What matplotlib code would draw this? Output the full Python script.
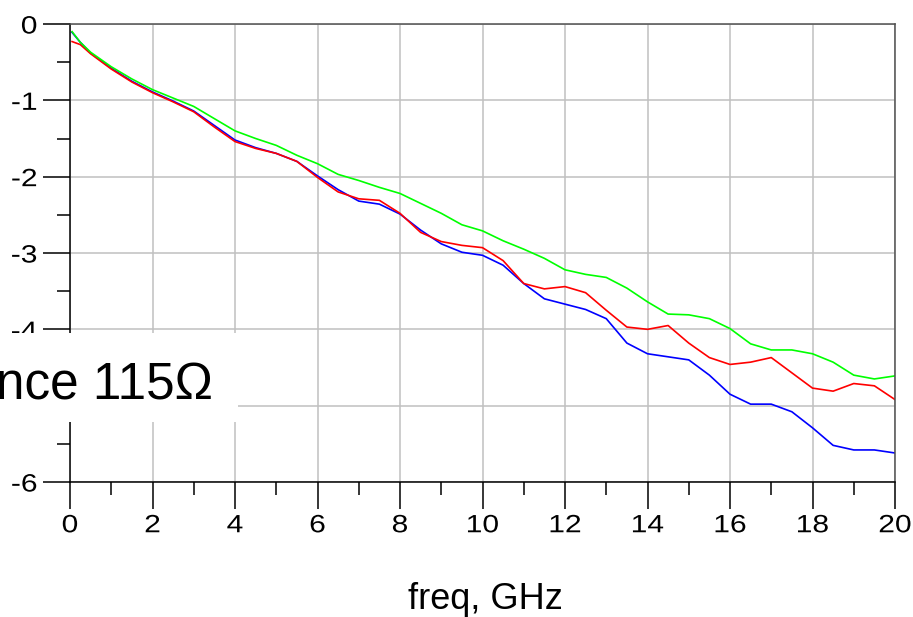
import numpy as np
import matplotlib
matplotlib.use("Agg")
import matplotlib.pyplot as plt
from matplotlib.patches import Rectangle
from matplotlib.ticker import MultipleLocator
from matplotlib.patheffects import AbstractPathEffect
from matplotlib.transforms import Affine2D

plt.rcParams['font.family'] = ['Liberation Sans', 'DejaVu Sans']
plt.rcParams['axes.unicode_minus'] = False

# frequency grid (GHz) and insertion loss (dB)
freq = [0.05, 0.25, 0.5, 1.0, 1.5, 2.0, 2.5, 3.0, 3.5, 4.0, 4.5, 5.0, 5.5, 6.0, 6.5,
        7.0, 7.5, 8.0, 8.5, 9.0, 9.5, 10.0, 10.5, 11.0, 11.5, 12.0, 12.5, 13.0,
        13.5, 14.0, 14.5, 15.0, 15.5, 16.0, 16.5, 17.0, 17.5, 18.0, 18.5, 19.0,
        19.5, 20.0]
blue = [-0.11, -0.24, -0.38, -0.58, -0.75, -0.89, -1.01, -1.14, -1.33, -1.52, -1.62,
        -1.695, -1.80, -1.99, -2.17, -2.32, -2.36, -2.49, -2.70, -2.88, -2.99, -3.03,
        -3.16, -3.40, -3.60, -3.67, -3.74, -3.86, -4.18, -4.32, -4.36, -4.40, -4.60,
        -4.85, -4.98, -4.98, -5.08, -5.29, -5.52, -5.58, -5.58, -5.62]
red = [-0.23, -0.27, -0.39, -0.59, -0.76, -0.90, -1.02, -1.15, -1.35, -1.54, -1.63,
       -1.695, -1.80, -2.01, -2.20, -2.29, -2.31, -2.48, -2.73, -2.85, -2.90, -2.93,
       -3.10, -3.40, -3.47, -3.44, -3.52, -3.75, -3.97, -4.00, -3.95, -4.18, -4.37,
       -4.46, -4.43, -4.37, -4.57, -4.77, -4.81, -4.71, -4.74, -4.92]
green = [-0.10, -0.24, -0.37, -0.56, -0.72, -0.86, -0.97, -1.08, -1.24, -1.40, -1.50,
         -1.59, -1.72, -1.83, -1.97, -2.05, -2.14, -2.22, -2.35, -2.48, -2.63, -2.71,
         -2.84, -2.95, -3.07, -3.22, -3.28, -3.32, -3.46, -3.64, -3.80, -3.81, -3.86,
         -3.99, -4.19, -4.27, -4.27, -4.32, -4.43, -4.60, -4.65, -4.61]

xticks = [0, 2, 4, 6, 8, 10, 12, 14, 16, 18, 20]
xlabels = ['0', '2', '4', '6', '8', '10', '12', '14', '16', '18', '20']
yticks = [0, -1, -2, -3, -4, -5, -6]
ylabels = ['0', '-1', '-2', '-3', '-4', '', '-6']   # -5 sits under the label box


class HStretch(AbstractPathEffect):
    """widen glyphs horizontally, the tick font in the original is broad"""
    def __init__(self, sx, anchor='center'):
        super().__init__()
        self.sx = sx
        self.anchor = anchor

    def draw_path(self, renderer, gc, tpath, affine, rgbFace=None):
        ext = tpath.get_extents()
        x0 = ext.x1 if self.anchor == 'right' else (ext.x0 + ext.x1) / 2
        t = Affine2D().translate(-x0, 0).scale(self.sx, 1).translate(x0, 0) + affine
        renderer.draw_path(gc, tpath, t, rgbFace)


W, H = 913, 617
fig = plt.figure(figsize=(W / 100, H / 100), dpi=100)
ax = fig.add_axes([70 / W, 1 - 482 / H, 825 / W, 458 / H])

ax.plot(freq, blue, color='#0000ff', lw=1.2)
ax.plot(freq, red, color='#ff0000', lw=1.2)
ax.plot(freq, green, color='#00ff00', lw=1.2)

ax.set_xlim(0, 20)
ax.set_ylim(-6, 0)
ax.set_xticks(xticks)
ax.set_xticklabels(xlabels)
ax.set_yticks(yticks)
ax.set_yticklabels(ylabels)
ax.xaxis.set_minor_locator(MultipleLocator(1))
ax.yaxis.set_minor_locator(MultipleLocator(0.5))
ax.grid(True, which='major', color='#c0c0c0', lw=1.1)
ax.set_axisbelow(True)

ax.tick_params(which='major', direction='out', length=19.5, width=1.1,
               labelsize=18, color='black')
ax.tick_params(axis='x', which='major', pad=3)
ax.tick_params(axis='y', which='major', pad=4)
ax.tick_params(which='minor', direction='out', length=9.5, width=1.1, color='black')
for lab in ax.get_xticklabels():
    lab.set_path_effects([HStretch(1.2, 'center')])
for lab in ax.get_yticklabels():
    lab.set_path_effects([HStretch(1.2, 'right')])

for s in ['left', 'bottom']:
    ax.spines[s].set_linewidth(1.1)
    ax.spines[s].set_color('black')
for s in ['top', 'right']:
    ax.spines[s].set_linewidth(1.1)
    ax.spines[s].set_color('#505050')

ax.set_xlabel('freq, GHz', fontsize=26, va='baseline')
ax.xaxis.set_label_coords((485.5 - 70) / 825, (482 - 609) / 458)

# white label box partly cut off on the left
fig.add_artist(Rectangle((0, 1 - 422 / H), 238 / W, 89 / H, transform=fig.transFigure,
                         facecolor='white', edgecolor='none', zorder=10))
fig.text(213 / W, 1 - 399 / H, 'nce 115\u03a9', fontsize=37, ha='right', va='baseline',
         zorder=11)

plt.savefig("out.png", dpi=100)
